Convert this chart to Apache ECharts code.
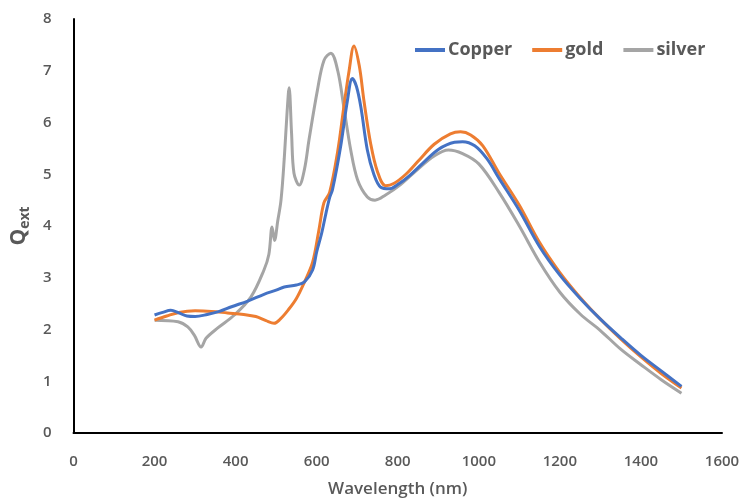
<!DOCTYPE html>
<html>
<head>
<meta charset="utf-8">
<script src="https://cdn.jsdelivr.net/npm/echarts@6/dist/echarts.min.js"></script>
<style>html,body{margin:0;padding:0;background:#fff}#c{width:751px;height:504px}</style>
</head>
<body>
<div id="c"></div>
<script>
const seriesNames = ['Copper', 'gold', 'silver'];
const colors = ['#4472C4', '#ED7D31', '#A5A5A5'];

const copperX = [200,220,240,260,280,300,330,360,390,430,470,500,520,550,570,590,600,612,623,632,639,659,676,688,698,709,725,741,758,780,800,830,860,900,940,960,990,1020,1050,1100,1150,1200,1250,1300,1350,1400,1450,1500];
const copperY = [2.28,2.33,2.37,2.32,2.26,2.25,2.29,2.35,2.44,2.55,2.68,2.76,2.82,2.86,2.92,3.15,3.5,3.85,4.25,4.55,4.7,5.53,6.43,6.85,6.7,6.3,5.47,5.0,4.75,4.72,4.8,4.98,5.2,5.48,5.62,5.63,5.55,5.3,4.92,4.3,3.6,3.05,2.6,2.2,1.84,1.5,1.2,0.9];

const goldX = [200,230,260,300,340,380,420,450,475,495,510,530,550,570,590,605,618,632,652,667,680,692,705,717,733,750,770,790,820,850,890,930,955,980,1010,1050,1100,1150,1200,1250,1300,1350,1400,1450,1500];
const goldY = [2.18,2.26,2.33,2.36,2.35,2.32,2.29,2.25,2.17,2.12,2.2,2.38,2.6,2.92,3.3,3.9,4.45,4.65,5.45,6.3,7.0,7.48,7.1,6.4,5.6,5.05,4.78,4.82,5.0,5.25,5.58,5.78,5.82,5.76,5.55,5.02,4.4,3.68,3.1,2.62,2.2,1.82,1.47,1.15,0.87];

const silverX = [200,258,282,298,315,327,356,397,438,470,482,490,496,504,512,520,527,532,538,544,557,570,581,602,618,635,652,667,684,701,725,744,770,807,850,889,925,960,1000,1050,1100,1150,1200,1250,1300,1350,1400,1450,1500];
const silverY = [2.18,2.15,2.05,1.89,1.66,1.83,2.03,2.28,2.63,3.15,3.45,3.98,3.72,4.1,4.5,5.3,6.2,6.67,5.8,5.02,4.79,5.1,5.66,6.63,7.2,7.34,7.0,6.3,5.47,4.89,4.56,4.5,4.6,4.8,5.1,5.35,5.47,5.4,5.2,4.65,4.0,3.3,2.72,2.3,1.98,1.62,1.32,1.03,0.77];

const xTicks = {min: 0, max: 1600, interval: 200};
const yTicks = {min: 0, max: 8, interval: 1};

const zip = (xs, ys) => xs.map((x, i) => [x, ys[i]]);
const allData = [zip(copperX, copperY), zip(goldX, goldY), zip(silverX, silverY)];

const font = '"Open Sans", "Liberation Sans", sans-serif';
const chart = echarts.init(document.getElementById('c'), null, {renderer: 'canvas'});
chart.setOption({
  animation: false,
  backgroundColor: '#fff',
  grid: {left: 72, right: 29, top: 19, bottom: 71, containLabel: false},
  legend: {
    left: 410, top: 36,
    icon: 'rect', itemWidth: 30, itemHeight: 4, itemGap: 20,
    textStyle: {fontFamily: font, fontSize: 18, fontWeight: 'bold', color: '#595959', padding: [0,0,0,-2]},
    data: seriesNames
  },
  xAxis: {
    type: 'value', min: xTicks.min, max: xTicks.max, interval: xTicks.interval,
    name: 'Wavelength (nm)', nameLocation: 'middle', nameGap: 48,
    nameTextStyle: {fontFamily: font, fontSize: 17, fontWeight: 600, color: '#595959'},
    axisLine: {show: true, lineStyle: {color: '#000', width: 2}},
    axisTick: {show: false}, splitLine: {show: false},
    axisLabel: {margin: 21, fontFamily: font, fontSize: 15, fontWeight: 600, color: '#595959', formatter: v => String(v)}
  },
  yAxis: {
    type: 'value', min: yTicks.min, max: yTicks.max, interval: yTicks.interval,
    name: '{q|Q}{s|ext}', nameLocation: 'middle', nameGap: 33, nameRotate: 90,
    nameTextStyle: {
      rich: {
        q: {fontFamily: font, fontSize: 21, fontWeight: 'bold', color: '#595959', lineHeight: 26},
        s: {fontFamily: font, fontSize: 14, fontWeight: 'bold', color: '#595959', verticalAlign: 'bottom', lineHeight: 26, padding: [10,0,0,0]}
      }
    },
    axisLine: {show: true, lineStyle: {color: '#000', width: 2}},
    axisTick: {show: false}, splitLine: {show: false},
    axisLabel: {margin: 22, fontFamily: font, fontSize: 15, fontWeight: 600, color: '#595959', formatter: v => String(v)}
  },
  series: seriesNames.map((n, i) => ({
    name: n, type: 'line', data: allData[i],
    smooth: 0.35, showSymbol: false, symbol: 'none',
    lineStyle: {color: colors[i], width: 3},
    itemStyle: {color: colors[i]},
    z: 3 - i
  }))
});
</script>
</body>
</html>
